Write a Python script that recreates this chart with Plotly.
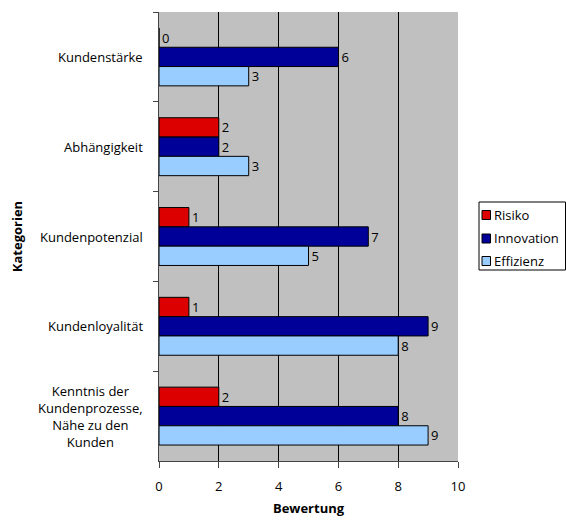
import plotly.graph_objects as go

categories = ["Kundenstärke", "Abhängigkeit", "Kundenpotenzial", "Kundenloyalität",
              "Kenntnis der<br>Kundenprozesse,<br>Nähe zu den<br>Kunden"]
risiko = [0, 2, 1, 1, 2]
innovation = [6, 2, 7, 9, 8]
effizienz = [3, 3, 5, 8, 9]
series_names = ["Risiko", "Innovation", "Effizienz"]
colors = ["#dd0000", "#000099", "#99ccff"]
x_ticks = [0, 2, 4, 6, 8, 10]

FONT = "Open Sans"
FS = 13
W, H = 566, 521
L, R, T, B = 159, 108, 12, 60
PW, PH = W - L - R, H - T - B


def px_x(p):
    return (p - L) / PW


def px_y(p):
    return (H - B - p) / PH


fig = go.Figure()
for name, vals, col in zip(series_names, [risiko, innovation, effizienz], colors):
    fig.add_trace(go.Bar(
        y=categories, x=vals, name=name, orientation="h",
        marker=dict(color=col, line=dict(color="black", width=1)),
        text=[str(v) for v in vals], textposition="outside",
        textfont=dict(family=FONT, size=FS, color="black"),
        cliponaxis=False, showlegend=False,
    ))

for c in categories:
    fig.add_annotation(x=0, y=c, xref="paper", yref="y", text=c, showarrow=False,
                       xanchor="right", align="center", xshift=-14,
                       font=dict(family=FONT, size=FS, color="black"))

# legend box (drawn manually to match compact legend)
fig.add_shape(type="rect", xref="paper", yref="paper",
              x0=px_x(479), x1=px_x(565.5), y0=px_y(270), y1=px_y(202),
              line=dict(color="black", width=1), fillcolor="white", layer="above")
row_y = [215, 238.5, 261]
for name, col, ry in zip(series_names, colors, row_y):
    fig.add_shape(type="rect", xref="paper", yref="paper",
                  x0=px_x(482), x1=px_x(490.5), y0=px_y(ry + 4.5), y1=px_y(ry - 4.5),
                  line=dict(color="black", width=1), fillcolor=col, layer="above")
    fig.add_annotation(x=px_x(492), y=px_y(ry), xref="paper", yref="paper", text=name,
                       showarrow=False, xanchor="left", yanchor="middle",
                       font=dict(family=FONT, size=FS, color="black"))

fig.update_layout(
    width=W, height=H,
    margin=dict(l=L, r=R, t=T, b=B),
    barmode="group", bargap=0.355, bargroupgap=0,
    plot_bgcolor="#c0c0c0", paper_bgcolor="white",
    font=dict(family=FONT, size=FS, color="black"),
    showlegend=False,
    xaxis=dict(range=[0, 10], tickvals=x_ticks, showgrid=True, gridcolor="black",
               gridwidth=1, zeroline=False, showline=True, linecolor="#444",
               ticks="outside", ticklen=6, tickcolor="#444", ticklabelstandoff=7,
               automargin=False,
               title=dict(text="<b>Bewertung</b>", font=dict(family=FONT, size=FS), standoff=10),
               tickfont=dict(family=FONT, size=FS)),
    yaxis=dict(autorange="reversed", showticklabels=False, showgrid=False,
               showline=True, linecolor="#444", ticks="outside", ticklen=5,
               tickcolor="#444", tickson="boundaries", automargin=False,
               title=dict(text="<b>Kategorien</b>", font=dict(family=FONT, size=FS), standoff=132)),
)
fig.write_html("out.html")
